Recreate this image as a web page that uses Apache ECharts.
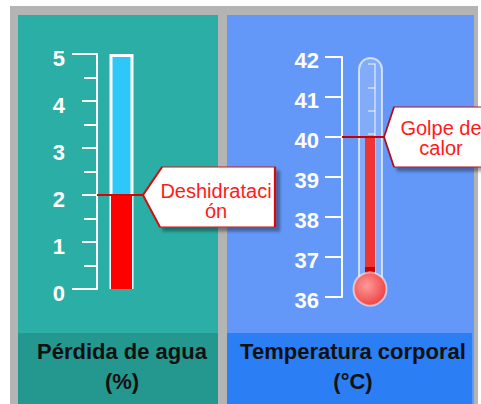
<!DOCTYPE html>
<html><head><meta charset="utf-8">
<script src="https://cdn.jsdelivr.net/npm/echarts@6/dist/echarts.min.js"></script>
<style>html,body{margin:0;padding:0;background:#fff}#c{width:481px;height:404px}</style>
</head><body><div id="c"></div>
<script>
// ---- data ----
const panelTitles = ['Pérdida de agua\n(%)', 'Temperatura corporal\n(°C)'];
const waterAxis = [0, 5, 1];        // min, max, interval (%)
const waterLoss = [2];              // current value (%)
const waterMarkerText = ['Deshidrataci\nón'];
const tempAxis = [36, 42, 1];       // min, max, interval (°C)
const bodyTemp = [40];              // current value (°C)
const tempMarkerText = ['Golpe de\ncalor'];

const FONT = '"Liberation Sans", Arial, sans-serif';
const chart = echarts.init(document.getElementById('c'), null, {renderer: 'svg'});

const hiddenX = (g, max) => ({gridIndex: g, type: 'value', min: 0, max: max, show: false});

const option = {
  animation: false,
  backgroundColor: '#ffffff',
  graphic: [
    {type: 'rect', z: -10, shape: {x: 10, y: 6, width: 468, height: 398}, style: {fill: '#b4b4b4'}},
    {type: 'rect', z: -9, shape: {x: 18, y: 15, width: 200, height: 389}, style: {fill: '#2baea6'}},
    {type: 'rect', z: -9, shape: {x: 18, y: 333, width: 200, height: 71}, style: {fill: '#24978f'}},
    {type: 'rect', z: -9, shape: {x: 227, y: 15, width: 247, height: 389}, style: {fill: '#6398f8'}},
    {type: 'rect', z: -9, shape: {x: 227, y: 333, width: 245, height: 71}, style: {fill: '#2b7ef3'}},
    {type: 'text', z: 10, style: {text: panelTitles[0], x: 122, y: 366, textAlign: 'center', textVerticalAlign: 'middle',
      font: 'bold 22px ' + FONT, fill: '#111111', lineHeight: 30}},
    {type: 'text', z: 10, style: {text: panelTitles[1], x: 353, y: 366, textAlign: 'center', textVerticalAlign: 'middle',
      font: 'bold 22px ' + FONT, fill: '#111111', lineHeight: 30}}
  ],
  grid: [
    {left: 97, top: 54, width: 46, height: 235, outerBoundsMode: 'none'},
    {left: 342, top: 57, width: 42, height: 240, outerBoundsMode: 'none'},
    {left: 375, top: 64, width: 1, height: 210, outerBoundsMode: 'none'}
  ],
  xAxis: [hiddenX(0, 46), hiddenX(0, 46), hiddenX(1, 42), hiddenX(1, 42), hiddenX(2, 1)],
  yAxis: [
    {gridIndex: 0, type: 'value', position: 'left', min: waterAxis[0], max: waterAxis[1], interval: waterAxis[2],
      axisLine: {show: true, lineStyle: {color: '#fff', width: 2}},
      axisTick: {show: true, length: 15, lineStyle: {color: '#fff', width: 2}},
      minorTick: {show: true, splitNumber: 2, length: 13, lineStyle: {color: '#fff', width: 2}},
      axisLabel: {show: true, color: '#fff', fontSize: 22, fontWeight: 'bold', fontFamily: FONT, margin: 32,
        verticalAlign: 'top', lineHeight: 9},
      splitLine: {show: false}},
    {gridIndex: 0, type: 'value', position: 'left', min: waterAxis[0], max: waterAxis[1], interval: waterAxis[1] - waterAxis[0],
      axisLine: {show: false}, axisLabel: {show: false}, splitLine: {show: false},
      axisTick: {show: true, length: 25, lineStyle: {color: '#fff', width: 2}}},
    {gridIndex: 1, type: 'value', position: 'left', min: tempAxis[0], max: tempAxis[1], interval: tempAxis[2],
      axisLine: {show: true, lineStyle: {color: '#fff', width: 2}},
      axisTick: {show: true, length: 17, lineStyle: {color: '#fff', width: 2}},
      axisLabel: {show: true, color: '#fff', fontSize: 22, fontWeight: 'bold', fontFamily: FONT, margin: 23,
        verticalAlign: 'top', lineHeight: 6},
      splitLine: {show: false}},
    {gridIndex: 2, type: 'value', position: 'left', min: 0, max: 9, interval: 1,
      axisLine: {show: true, lineStyle: {color: 'rgba(255,255,255,0.6)', width: 1.5}},
      axisTick: {show: true, length: 7, lineStyle: {color: 'rgba(255,255,255,0.6)', width: 1.5}},
      axisLabel: {show: false}, splitLine: {show: false}}
  ],
  series: [
    // left tube
    {type: 'bar', xAxisIndex: 0, yAxisIndex: 0, barWidth: 24, silent: true,
      data: [[24.5, waterAxis[1]]],
      itemStyle: {color: '#2ec8f8', borderColor: '#ffffff', borderWidth: 3}},
    // left value
    {type: 'bar', xAxisIndex: 1, yAxisIndex: 0, barWidth: 21, silent: true,
      data: [[24.5, waterLoss[0]]],
      itemStyle: {color: '#ff0000'},
      markLine: {silent: true, symbol: 'none', label: {show: false},
        lineStyle: {color: '#e00000', width: 2, type: 'solid'},
        data: [[{coord: [0, waterLoss[0]]}, {coord: [46, waterLoss[0]]}]]},
      markPoint: {silent: true,
        data: [{coord: [46, waterLoss[0]], name: waterMarkerText[0],
          symbol: 'path://M0,28L19,0L132,0L132,60L17,60Z', symbolSize: [132, 60], symbolKeepAspect: false,
          symbolOffset: [66, 2],
          itemStyle: {color: '#ffffff', borderColor: '#d01010', borderWidth: 1.5,
            shadowColor: 'rgba(0,0,0,0.35)', shadowBlur: 3, shadowOffsetX: 4, shadowOffsetY: 4},
          label: {show: true, position: 'inside', formatter: '{b}', offset: [7, 4], color: '#ff1a1a',
            fontSize: 20, lineHeight: 20, fontFamily: FONT}}]}},
    // thermometer tube
    {type: 'bar', xAxisIndex: 2, yAxisIndex: 2, barWidth: 25, silent: true, startValue: tempAxis[0],
      data: [[28.5, tempAxis[1]]],
      itemStyle: {color: 'rgba(255,255,255,0.2)', borderColor: 'rgba(255,255,255,0.65)', borderWidth: 2,
        borderRadius: [12.5, 12.5, 0, 0]}},
    // thermometer value
    {type: 'bar', xAxisIndex: 3, yAxisIndex: 2, barWidth: 10, silent: true, startValue: tempAxis[0],
      data: [[28, bodyTemp[0]]],
      itemStyle: {color: {type: 'linear', x: 0, y: 0, x2: 0, y2: 1, colorStops: [
        {offset: 0, color: '#ee3535'}, {offset: 0.81, color: '#ee3535'},
        {offset: 0.815, color: '#c40000'}, {offset: 1, color: '#c40000'}]}},
      markLine: {silent: true, symbol: 'none', label: {show: false},
        lineStyle: {color: '#c80000', width: 2, type: 'solid'},
        data: [[{coord: [0, bodyTemp[0]]}, {coord: [42, bodyTemp[0]]}]]},
      markPoint: {silent: true,
        data: [
          {coord: [28, tempAxis[0]], symbol: 'circle', symbolSize: 33, symbolOffset: [0, -8],
            itemStyle: {color: {type: 'radial', x: 0.4, y: 0.4, r: 0.65, colorStops: [
              {offset: 0, color: '#ff9a9a'}, {offset: 1, color: '#ee4040'}]},
              borderColor: 'rgba(255,255,255,0.55)', borderWidth: 2},
            label: {show: false}},
          {coord: [42, bodyTemp[0]], name: tempMarkerText[0],
            symbol: 'path://M0,30L10,0L98,0L98,60L10,60Z', symbolSize: [98, 60], symbolKeepAspect: false,
            symbolOffset: [49, 0],
            itemStyle: {color: '#ffffff', borderColor: '#b01020', borderWidth: 1.5,
              shadowColor: 'rgba(0,0,0,0.35)', shadowBlur: 3, shadowOffsetX: 4, shadowOffsetY: 4},
            label: {show: true, position: 'inside', formatter: '{b}', offset: [8, 1], color: '#ff1a1a',
              fontSize: 20, lineHeight: 20, fontFamily: FONT}}
        ]}}
  ]
};
chart.setOption(option);
</script>
</body></html>
